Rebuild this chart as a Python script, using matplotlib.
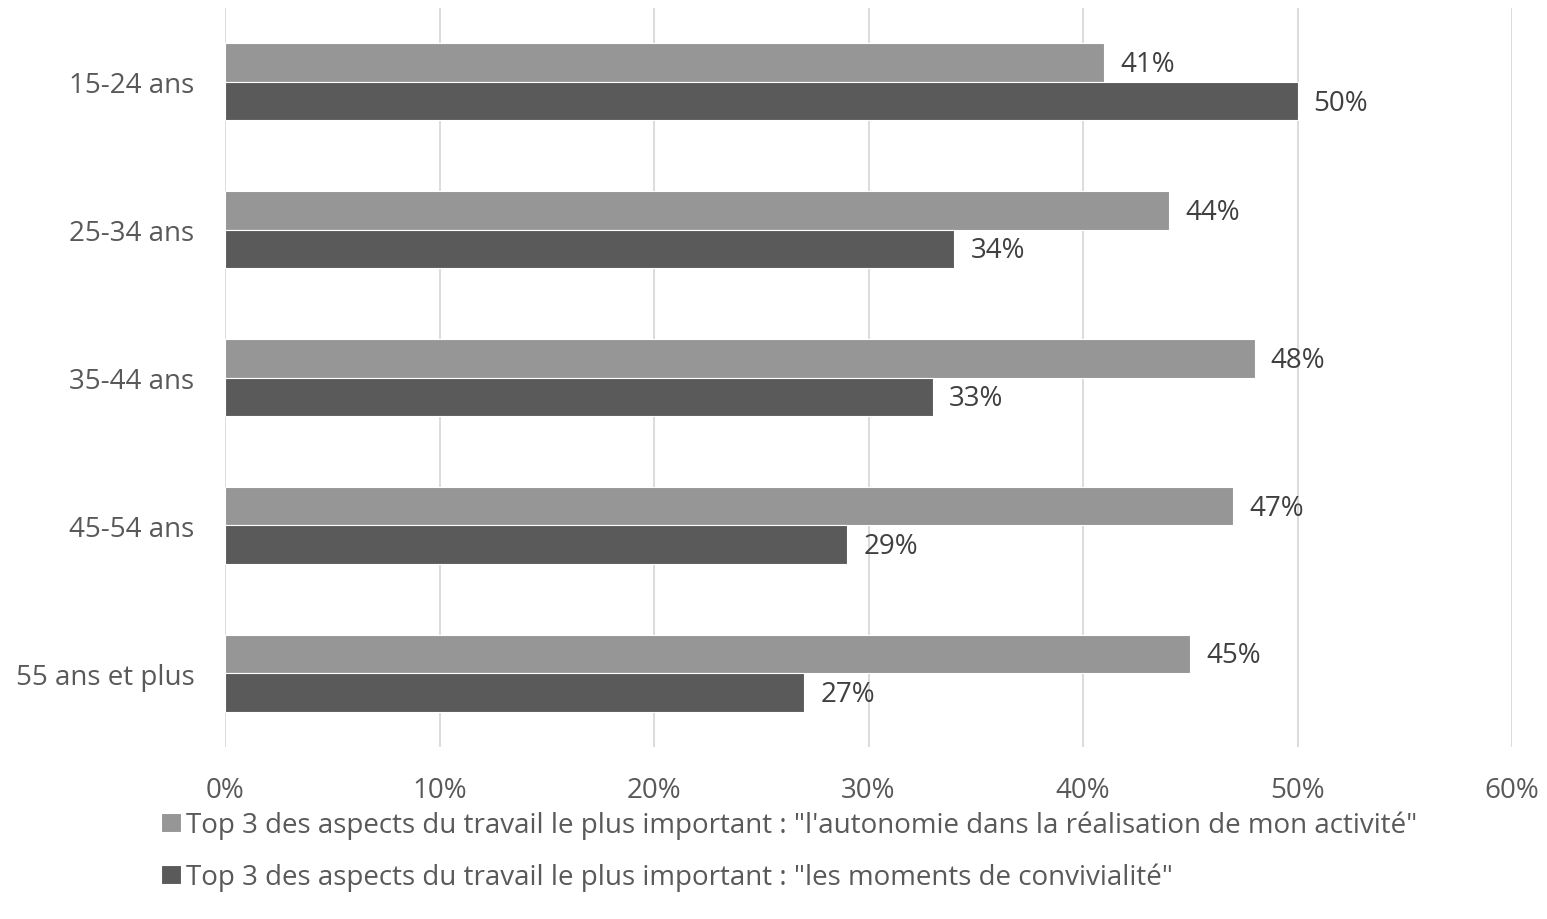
import matplotlib
matplotlib.use("Agg")
import matplotlib.pyplot as plt
import numpy as np

categories = ["15-24 ans", "25-34 ans", "35-44 ans", "45-54 ans", "55 ans et plus"]
autonomie = [41, 44, 48, 47, 45]
convivialite = [50, 34, 33, 29, 27]
series_labels = [
    'Top 3 des aspects du travail le plus important : "l\'autonomie dans la réalisation de mon activité"',
    'Top 3 des aspects du travail le plus important : "les moments de convivialité"',
]
xticks = [0, 10, 20, 30, 40, 50, 60]

plt.rcParams['font.family'] = ['Open Sans', 'DejaVu Sans']

fig = plt.figure(figsize=(15.47, 9.2), dpi=100)
ax = fig.add_axes([225/1547, 1 - 748/920, (1512-225)/1547, (748-9)/920])

y = np.arange(len(categories))
h = 0.26
light = "#969696"
dark = "#5a5a5a"
fs = 20
b1 = ax.barh(y - h/2, autonomie, height=h, color=light, edgecolor="white", linewidth=0.8, zorder=3, label=series_labels[0])
b2 = ax.barh(y + h/2, convivialite, height=h, color=dark, edgecolor="white", linewidth=0.8, zorder=3, label=series_labels[1])

for yy, v in zip(y - h/2, autonomie):
    ax.text(v + 0.75, yy + 0.01, f"{v}%", va="center", ha="left", fontsize=fs, color="#404040")
for yy, v in zip(y + h/2, convivialite):
    ax.text(v + 0.75, yy + 0.01, f"{v}%", va="center", ha="left", fontsize=fs, color="#404040")

ax.set_xlim(0, 60)
ax.set_ylim(4.5, -0.5)
ax.set_xticks(xticks)
ax.set_xticklabels([f"{t}%" for t in xticks])
ax.set_yticks(y)
ax.set_yticklabels(categories)
ax.tick_params(axis='both', length=0, labelsize=fs, labelcolor="#595959")
ax.tick_params(axis='x', pad=21)
ax.tick_params(axis='y', pad=22)
ax.grid(axis='x', color="#d9d9d9", linewidth=1.3, zorder=0)
for s in ax.spines.values():
    s.set_visible(False)

leg = fig.legend(handles=[b1, b2], loc="center left", bbox_to_anchor=(150/1547, 1 - 852/920),
                 frameon=False, fontsize=fs, handlelength=0.7, handleheight=0.7,
                 handletextpad=0.2, labelspacing=0.85, borderaxespad=0)
for t in leg.get_texts():
    t.set_color("#595959")

fig.savefig("out.png", dpi=100)
